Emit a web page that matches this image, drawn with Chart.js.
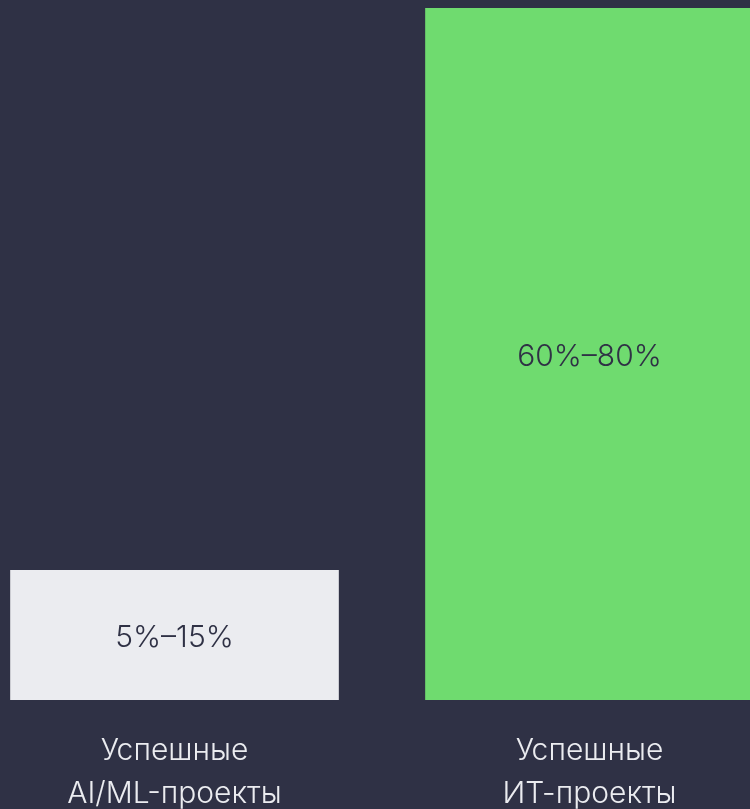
<!DOCTYPE html>
<html>
<head>
<meta charset="utf-8">
<script src="https://cdn.jsdelivr.net/npm/chart.js@4/dist/chart.umd.min.js"></script>
<style>
  html, body { margin: 0; padding: 0; background: #2f3145; overflow: hidden; }
  #wrap { position: absolute; left: -33.5px; top: 0; width: 830px; height: 809px; }
</style>
</head>
<body>
<div id="wrap"><canvas id="successChart"></canvas></div>
<script>
// Данные графика
const categories = [['Успешные', 'AI/ML-проекты'], ['Успешные', 'ИТ-проекты']];
const barValues = [15, 80];
const barLabels = ['5%–15%', '60%–80%'];
const barColors = ['#ebecf0', '#6fdb6f'];

// Подписи внутри столбцов и под ними
const labelsPlugin = {
    id: 'barTexts',
    afterDatasetsDraw(chart) {
        const ctx = chart.ctx;
        const meta = chart.getDatasetMeta(0);
        ctx.save();
        ctx.textAlign = 'center';
        ctx.textBaseline = 'middle';
        ctx.font = '300 30px Inter, sans-serif';
        meta.data.forEach((bar, i) => {
            ctx.fillStyle = '#2f3145';
            ctx.fillText(barLabels[i], bar.x, (bar.y + bar.base) / 2 + 3);
            ctx.fillStyle = '#ebecf0';
            categories[i].forEach((line, j) => {
                ctx.fillText(line, bar.x, chart.chartArea.bottom + 51 + j * 43);
            });
        });
        ctx.restore();
    }
};

new Chart(document.getElementById('successChart'), {
    type: 'bar',
    data: {
        labels: categories.map(c => c.join(' ')),
        datasets: [{
            data: barValues,
            backgroundColor: barColors,
            borderWidth: 0,
            barThickness: 328
        }]
    },
    options: {
        responsive: true,
        maintainAspectRatio: false,
        animation: false,
        layout: { padding: { top: 8, bottom: 109, left: 0, right: 0 } },
        plugins: { legend: { display: false }, tooltip: { enabled: false } },
        scales: {
            x: { display: false },
            y: { display: false, min: 0, max: 80 }
        }
    },
    plugins: [labelsPlugin]
});
</script>
</body>
</html>
